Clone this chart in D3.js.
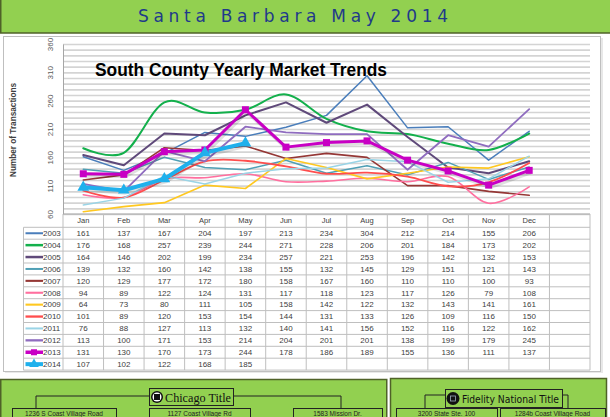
<!DOCTYPE html>
<html><head><meta charset="utf-8">
<script src="https://cdn.jsdelivr.net/npm/d3@7"></script>
<style>
html,body{margin:0;padding:0;background:#fff;}
svg{display:block;}
text{font-family:"Liberation Sans",Arial,sans-serif;}
</style></head>
<body>
<svg id="c" width="610" height="417"></svg>
<script>
// ---------- data ----------
const months = ["Jan","Feb","Mar","Apr","May","Jun","Jul","Aug","Sep","Oct","Nov","Dec"];
const years = ["2003","2004","2005","2006","2007","2008","2009","2010","2011","2012","2013","2014"];
const v2003 = [161,137,167,204,197,213,234,304,212,214,155,206];
const v2004 = [176,168,257,239,244,271,228,206,201,184,173,202];
const v2005 = [164,146,202,199,234,257,221,253,196,142,132,153];
const v2006 = [139,132,160,142,138,155,132,145,129,151,121,143];
const v2007 = [120,129,177,172,180,158,167,160,110,110,100,93];
const v2008 = [94,89,122,124,131,117,118,123,117,126,79,108];
const v2009 = [64,73,80,111,105,158,142,122,132,143,141,161];
const v2010 = [101,89,120,153,154,144,131,133,126,109,116,150];
const v2011 = [76,88,127,113,132,140,141,156,152,116,122,162];
const v2012 = [113,100,171,153,214,204,201,201,138,199,179,245];
const v2013 = [131,130,170,173,244,178,186,189,155,136,111,137];
const v2014 = [107,102,122,168,185];
const yTicks = [60,110,160,210,260,310,360];
const pageTitle = "Santa Barbara May 2014";
const chartTitle = "South County Yearly Market Trends";
const yTitle = "Number of Transactions";

const seriesValues = [v2003,v2004,v2005,v2006,v2007,v2008,v2009,v2010,v2011,v2012,v2013,v2014];
const colors = ["#4a7ebb","#13b04c","#5f497a","#4f9fb5","#953735","#ff6f9f","#ffc820","#ff4d4d","#9ad4e6","#8f6cbf","#c800c4","#1fb0ec"];
const widths = [1.5,2,2,1.5,1.6,1.6,1.6,1.8,1.5,1.8,3,4];
const smooth = [false,true,false,false,false,true,false,true,false,false,false,false];
const series = years.map((y,i)=>({year:y, values:seriesValues[i], color:colors[i], w:widths[i], smooth:smooth[i]}));

const svg = d3.select("#c");

// ---------- top banner ----------
svg.append("rect").attr("x",0).attr("y",0).attr("width",610).attr("height",33).attr("fill","#92d050");
svg.append("line").attr("x1",0).attr("x2",610).attr("y1",33).attr("y2",33).attr("stroke","#4f6228").attr("stroke-width",1.5);
svg.append("line").attr("x1",0.75).attr("x2",0.75).attr("y1",0).attr("y2",33).attr("stroke","#4f6228").attr("stroke-width",1.5);
svg.append("text").attr("x",138).attr("y",21.5).attr("textLength",310).attr("lengthAdjust","spacing")
  .attr("font-size",17).attr("fill","#1f3a8a").style("font-family","'DejaVu Sans',sans-serif").text(pageTitle);

// ---------- chart box ----------
svg.append("rect").attr("x",5).attr("y",38).attr("width",598).attr("height",335).attr("fill","#e8e8e8");
svg.append("rect").attr("x",3.5).attr("y",36.5).attr("width",597).attr("height",335).attr("fill","#fff").attr("stroke","#bfbfbf");

const L=63, R=590, T=44, B=214;
const x = d3.scaleBand().domain(months.concat([""])).range([L,R]);
const y = d3.scaleLinear().domain([60,360]).range([B,T]);

// gridlines
const grid = svg.append("g").attr("transform",`translate(${L},0)`)
  .call(d3.axisLeft(y).tickValues(d3.range(60,361,10)).tickSize(-(R-L)).tickFormat(""));
grid.select(".domain").remove();
grid.selectAll("line").attr("stroke","#d4d4d4").attr("stroke-width",1.6);

// y axis labels
const ya = svg.append("g").attr("transform",`translate(${L},0)`)
  .call(d3.axisLeft(y).tickValues(yTicks).tickSize(0).tickPadding(0));
ya.select(".domain").attr("stroke","#a6a6a6");
ya.selectAll("text").attr("transform","translate(-13,0) rotate(-90)").attr("x",0).attr("y",0).attr("dy","0.35em")
  .attr("text-anchor","middle").attr("font-size",8).attr("fill","#595959").style("font-family","'Liberation Sans',sans-serif");

svg.append("text").attr("transform","translate(16,130) rotate(-90)").attr("text-anchor","middle")
  .attr("font-size",9.5).attr("font-weight","bold").attr("fill","#404040").attr("textLength",94).attr("lengthAdjust","spacingAndGlyphs").text(yTitle);

svg.append("text").attr("x",95).attr("y",76).attr("font-size",18).attr("font-weight","bold").attr("fill","#000")
  .attr("textLength",292).attr("lengthAdjust","spacingAndGlyphs").text(chartTitle);

// ---------- lines ----------
const cx = i => x(months[i]) + x.bandwidth()/2;
series.forEach(s=>{
  const line = d3.line().x((d,i)=>cx(i)).y(d=>y(d)).curve(s.smooth?d3.curveCatmullRom.alpha(0):d3.curveLinear);
  if (s.w>=3) {
    svg.append("path").attr("d",line(s.values)).attr("fill","none").attr("stroke","#000").attr("stroke-opacity",0.12)
      .attr("stroke-width",s.w+1).attr("transform","translate(1.5,2)").attr("stroke-linejoin","round");
  }
  svg.append("path").attr("d",line(s.values)).attr("fill","none").attr("stroke",s.color).attr("stroke-width",s.w)
    .attr("stroke-linejoin","round").attr("stroke-linecap","round");
});
// markers 2013
const s13 = series[10];
svg.selectAll(".m13").data(s13.values).enter().append("rect")
  .attr("x",(d,i)=>cx(i)-3.5).attr("y",d=>y(d)-3.5).attr("width",7).attr("height",7).attr("fill",s13.color);
// markers 2014
const s14 = series[11];
svg.selectAll(".m14").data(s14.values).enter().append("path")
  .attr("d",d3.symbol().type(d3.symbolTriangle).size(60)).attr("transform",(d,i)=>`translate(${cx(i)},${y(d)})`).attr("fill",s14.color);

// ---------- data table ----------
const TL = 23.5, rowTop = 227.3, rowH = 11.9;
const tg = svg.append("g");
const tblStroke = "#bfbfbf";
tg.append("line").attr("x1",L).attr("x2",R).attr("y1",B).attr("y2",B).attr("stroke","#a6a6a6");
for (let r=0;r<=years.length;r++){
  const yy = rowTop + r*rowH;
  tg.append("line").attr("x1",TL).attr("x2",R).attr("y1",yy).attr("y2",yy).attr("stroke",tblStroke);
}
x.domain().forEach((m,i)=>{
  const xx = x(m);
  tg.append("line").attr("x1",xx).attr("x2",xx).attr("y1",B).attr("y2",rowTop+years.length*rowH).attr("stroke",tblStroke);
});
tg.append("line").attr("x1",R).attr("x2",R).attr("y1",B).attr("y2",rowTop+years.length*rowH).attr("stroke",tblStroke);
tg.append("line").attr("x1",TL).attr("x2",TL).attr("y1",rowTop).attr("y2",rowTop+years.length*rowH).attr("stroke",tblStroke);
months.forEach((m,i)=>{
  tg.append("text").attr("x",cx(i)).attr("y",(B+rowTop)/2).attr("dy","0.35em").attr("text-anchor","middle")
    .attr("font-size",7.5).attr("fill","#404040").text(m);
});
series.forEach((s,r)=>{
  const yc = rowTop + (r+0.5)*rowH;
  tg.append("line").attr("x1",25.5).attr("x2",43).attr("y1",yc).attr("y2",yc).attr("stroke",s.color).attr("stroke-width",Math.min(s.w+0.5,4));
  if (r===10) tg.append("rect").attr("x",31).attr("y",yc-3).attr("width",6).attr("height",6).attr("fill",s.color);
  if (r===11) tg.append("path").attr("d",d3.symbol().type(d3.symbolTriangle).size(40)).attr("transform",`translate(34,${yc})`).attr("fill",s.color);
  tg.append("text").attr("x",43).attr("y",yc).attr("dy","0.35em").attr("font-size",8).attr("fill","#404040").text(s.year);
  s.values.forEach((v,i)=>{
    tg.append("text").attr("x",cx(i)).attr("y",yc).attr("dy","0.35em").attr("text-anchor","middle")
      .attr("font-size",8).attr("fill","#404040").text(v);
  });
});

// ---------- bottom panels ----------
const green="#92d050", dk="#4f6228";
svg.append("rect").attr("x",0.75).attr("y",379.5).attr("width",386).attr("height",50).attr("fill",green).attr("stroke",dk).attr("stroke-width",1.5);
svg.append("rect").attr("x",390.5).attr("y",378.5).attr("width",216).attr("height",50).attr("fill",green).attr("stroke",dk).attr("stroke-width",1.5);
svg.append("path").attr("d","M36,410 V396 H341 V410").attr("fill","none").attr("stroke","#222").attr("stroke-width",1);
svg.append("path").attr("d","M425,410 V395 H568 V410").attr("fill","none").attr("stroke","#222").attr("stroke-width",1);
// Chicago box
svg.append("rect").attr("x",149.5).attr("y",388.5).attr("width",84).attr("height",17).attr("fill",green).attr("stroke","#222");
svg.append("circle").attr("cx",157).attr("cy",397).attr("r",6).attr("fill","#111");
svg.append("circle").attr("cx",157).attr("cy",397).attr("r",4.5).attr("fill","#fff");
svg.append("rect").attr("x",154).attr("y",394).attr("width",6).attr("height",6).attr("fill","#111");
svg.append("text").attr("x",165).attr("y",401.5).attr("font-size",12).attr("fill","#111").style("font-family","'Liberation Serif',serif")
  .attr("textLength",66).attr("lengthAdjust","spacingAndGlyphs").text("Chicago Title");
// Fidelity box
svg.append("rect").attr("x",445.5).attr("y",389.5).attr("width",117).attr("height",18).attr("fill",green).attr("stroke","#222");
svg.append("circle").attr("cx",453).attr("cy",398.5).attr("r",6.5).attr("fill","#111");
svg.append("rect").attr("x",450.5).attr("y",396).attr("width",5).attr("height",5).attr("fill","none").attr("stroke","#9ab").attr("stroke-width",0.8);
svg.append("text").attr("x",462).attr("y",402.5).attr("font-size",11).attr("fill","#111").style("font-family","'DejaVu Sans',sans-serif")
  .attr("textLength",97).attr("lengthAdjust","spacingAndGlyphs").text("Fidelity National Title");
// address boxes
const addrs = [["1236 S Coast Village Road",12,116],["1127 Coast Village Rd",149,250],["1583 Mission Dr.",293,382],["3200 State Ste. 100",396,497],["1284b Coast Village Road",500,605]];
addrs.forEach(a=>{
  svg.append("rect").attr("x",a[1]+0.5).attr("y",408.5).attr("width",a[2]-a[1]).attr("height",20).attr("fill",green).attr("stroke","#222");
  svg.append("text").attr("x",(a[1]+a[2])/2).attr("y",416).attr("text-anchor","middle").attr("font-size",6.5).attr("fill","#222").text(a[0]);
});
</script>
</body></html>
